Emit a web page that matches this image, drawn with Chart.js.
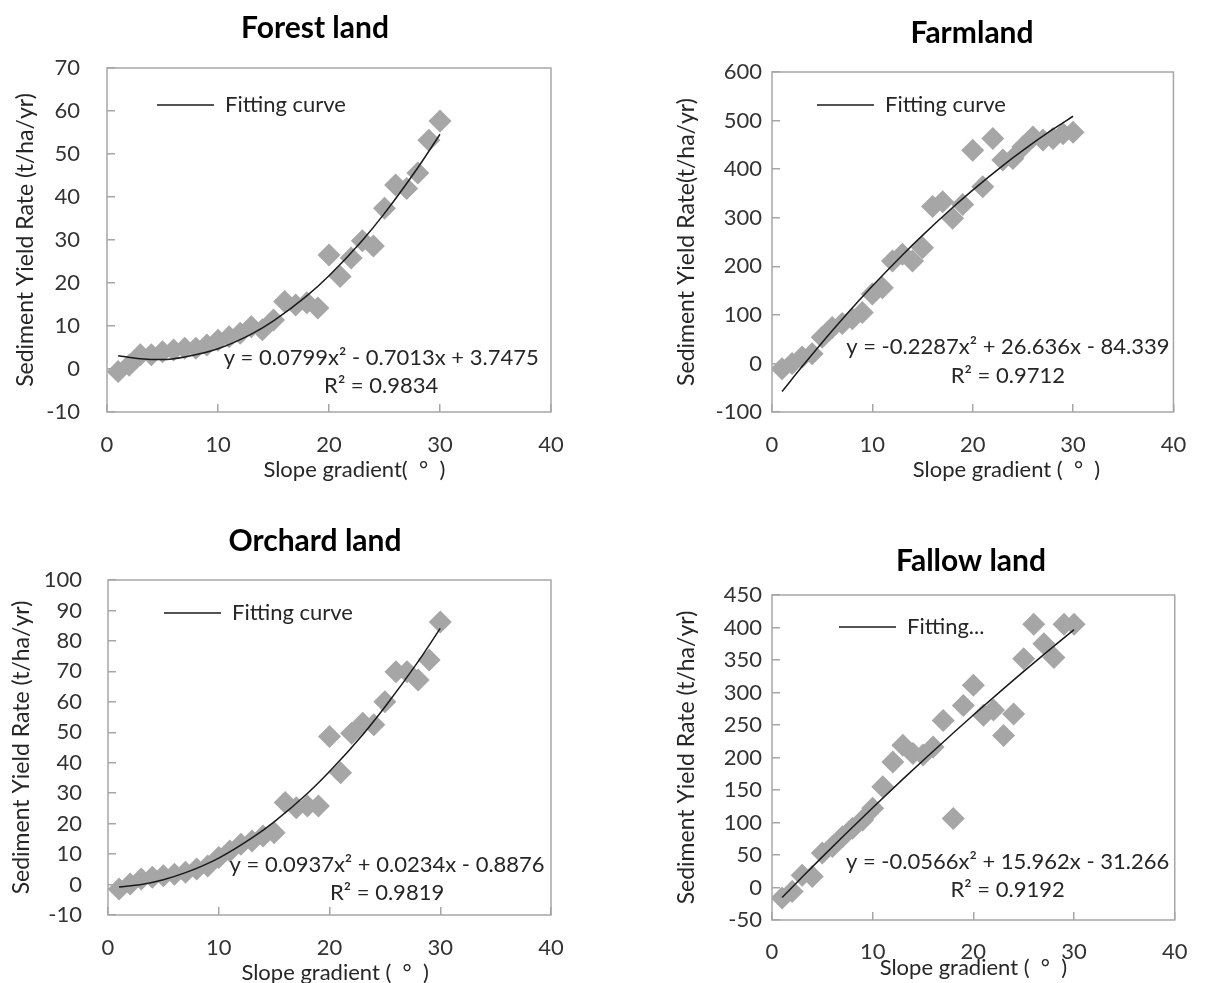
<!DOCTYPE html>
<html>
<head>
<meta charset="utf-8">
<title>Sediment yield rate vs slope gradient</title>
<script src="https://cdn.jsdelivr.net/npm/chart.js@4.4.1/dist/chart.umd.min.js"></script>
<style>
  html, body { margin: 0; padding: 0; background: #fff; overflow: hidden; }
  #page { position: relative; width: 1214px; height: 983px; overflow: hidden; }
  #page canvas { position: absolute; }
</style>
</head>
<body>
<div id="page">
  <canvas id="forestChart" width="600" height="490" style="left:0;top:0"></canvas>
  <canvas id="farmChart" width="574" height="490" style="left:640px;top:0"></canvas>
  <canvas id="orchardChart" width="600" height="500" style="left:0;top:500px"></canvas>
  <canvas id="fallowChart" width="574" height="500" style="left:640px;top:500px"></canvas>
</div>
<script>
// slope gradient of each plot (degrees)
const slopes = [1, 2, 3, 4, 5, 6, 7, 8, 9, 10, 11, 12, 13, 14, 15,
                16, 17, 18, 19, 20, 21, 22, 23, 24, 25, 26, 27, 28, 29, 30];

// sediment yield rate (t/ha/yr)
const forestYield = [-0.6, 0.9, 3.3, 3.3, 4.0, 4.4, 4.8, 4.8, 5.6, 6.7, 7.5, 8.3, 9.8, 9.1, 11.4,
                     15.7, 14.9, 15.4, 14.2, 26.5, 21.5, 25.8, 29.8, 28.6, 37.4, 42.8, 42.0, 45.6, 53.2, 57.7];
const farmYield = [-11, 0, 13, 20, 54, 74, 82, 92, 105, 143, 156, 211, 225, 211, 238,
                   323, 333, 299, 327, 439, 364, 463, 419, 422, 446, 466, 460, 463, 473, 476];
const orchardYield = [-1.5, 0.2, 1.8, 2.4, 2.9, 3.4, 4.0, 5.1, 6.1, 8.9, 11.0, 13.2, 14.3, 15.9, 17.0,
                      26.9, 25.2, 25.8, 25.8, 48.6, 36.7, 49.7, 53.0, 52.5, 60.0, 69.9, 69.9, 67.2, 73.7, 86.2];
const fallowYield = [-16, -6, 19, 17, 53, 63, 78, 91, 104, 122, 155, 193, 219, 206, 204,
                     216, 257, 106, 280, 311, 265, 273, 234, 267, 352, 405, 375, 354, 405, 405];

// fitting curves
const fitSlopes = [1, 3, 5, 7, 10, 13, 15, 18, 20, 23, 25, 28, 30];
const forestFit = [3.1, 2.4, 2.2, 2.8, 4.7, 8.1, 11.2, 17.0, 21.7, 29.9, 36.2, 46.8, 54.6];
const farmFit = [-57.9, -6.5, 43.1, 90.9, 159.2, 223.3, 263.7, 321.0, 356.9, 407.3, 438.6, 482.2, 508.9];
const orchardFit = [-0.8, 0.0, 1.6, 3.9, 8.7, 15.3, 20.6, 29.9, 37.1, 49.2, 58.3, 73.2, 84.1];
const fallowFit = [-15.4, 16.1, 47.1, 77.7, 122.7, 166.7, 195.4, 237.7, 265.3, 305.9, 332.4, 371.3, 396.7];

// axis ticks
const xTicks = [0, 10, 20, 30, 40];
const forestTicks = [-10, 0, 10, 20, 30, 40, 50, 60, 70];
const farmTicks = [-100, 0, 100, 200, 300, 400, 500, 600];
const orchardTicks = [-10, 0, 10, 20, 30, 40, 50, 60, 70, 80, 90, 100];
const fallowTicks = [-50, 0, 50, 100, 150, 200, 250, 300, 350, 400, 450];

const GREY = '#a6a6a6';
const TEXT = '#262626';
const FONT = 'Lato, "Open Sans", sans-serif';

Chart.defaults.font.family = FONT;
Chart.defaults.font.size = 22;
Chart.defaults.color = TEXT;

// frame box, equation text, and placement of title/legend like the Excel figure
const panelExtras = {
  id: 'panelExtras',
  afterLayout(chart, args, opts) {
    const t = chart.titleBlock;
    if (t && opts.titleX != null) {
      const w = t.right - t.left;
      t.left = opts.titleX - w / 2;
      t.right = t.left + w;
    }
    const lg = chart.legend;
    if (lg && opts.legendX != null) {
      const h = lg.bottom - lg.top;
      lg.left = chart.chartArea.left + opts.legendX - lg.options.labels.padding;
      lg.top = chart.chartArea.top;
      lg.bottom = lg.top + h;
    }
  },
  beforeDatasetsDraw(chart) {
    const {ctx, chartArea: a} = chart;
    ctx.save();
    ctx.strokeStyle = GREY;
    ctx.lineWidth = 1.5;
    ctx.strokeRect(a.left, a.top, a.width, a.height);
    ctx.restore();
  },
  afterDatasetsDraw(chart, args, opts) {
    const {ctx, scales} = chart;
    ctx.save();
    ctx.fillStyle = TEXT;
    ctx.font = '22px ' + FONT;
    ctx.textAlign = 'center';
    ctx.textBaseline = 'middle';
    (opts.notes || []).forEach(n => {
      ctx.fillText(n.text, scales.x.getPixelForValue(n.x), scales.y.getPixelForValue(n.y));
    });
    ctx.restore();
  }
};

function makePanel(id, p) {
  const observed = slopes.map((s, i) => ({x: s, y: p.values[i]}));
  const curve = fitSlopes.map((s, i) => ({x: s, y: p.fit[i]}));
  const tickGrid = {
    display: true, drawOnChartArea: false, drawTicks: true,
    tickLength: -8, color: GREY, lineWidth: 1.5
  };
  return new Chart(document.getElementById(id), {
    type: 'scatter',
    data: {
      datasets: [{
        type: 'line',
        label: p.legend,
        data: curve,
        borderColor: '#1a1a1a',
        borderWidth: 1.5,
        pointRadius: 0,
        cubicInterpolationMode: 'monotone'
      }, {
        label: 'Observed',
        data: observed,
        pointStyle: 'rectRot',
        pointRadius: 11.5,
        backgroundColor: GREY,
        borderWidth: 0
      }]
    },
    options: {
      responsive: false,
      animation: false,
      events: [],
      layout: { padding: { left: 0, top: 0, right: p.padRight, bottom: 0 } },
      plugins: {
        title: {
          display: true, text: p.title, color: '#000',
          font: { size: 30, weight: 'bold' }, padding: p.titlePad
        },
        legend: {
          position: 'chartArea', align: 'start',
          labels: {
            usePointStyle: true, pointStyle: 'line', pointStyleWidth: 57,
            padding: p.legendPad, color: TEXT, font: { size: 22 },
            filter: item => item.datasetIndex === 0
          }
        },
        tooltip: { enabled: false },
        panelExtras: { titleX: p.titleX, legendX: p.legendX, notes: p.notes }
      },
      scales: {
        x: {
          type: 'linear', position: 'bottom',
          min: xTicks[0], max: xTicks[xTicks.length - 1],
          ticks: { stepSize: xTicks[1] - xTicks[0], padding: p.xTickPad, color: '#333' },
          grid: tickGrid,
          border: { display: false },
          title: { display: true, text: p.xTitle, color: TEXT, font: { size: 22 },
                   padding: { top: 0, bottom: p.xTitlePad } },
          afterFit: s => { s.height = p.xHeight; }
        },
        y: {
          type: 'linear', position: 'left',
          min: p.yTicks[0], max: p.yTicks[p.yTicks.length - 1],
          ticks: { stepSize: p.yTicks[1] - p.yTicks[0], padding: p.yTickPad, color: '#333' },
          grid: tickGrid,
          border: { display: false },
          title: { display: true, text: p.yTitle, color: TEXT, font: { size: 23 },
                   padding: { top: p.yTitlePad, bottom: 0 } },
          afterFit: s => { s.width = p.yWidth; }
        }
      }
    },
    plugins: [panelExtras]
  });
}

makePanel('forestChart', {
  title: 'Forest land', titleX: 315, titlePad: { top: 10, bottom: 22 },
  values: forestYield, fit: forestFit, yTicks: forestTicks, legend: 'Fitting curve',
  padRight: 49, yWidth: 107, yTickPad: 35, yTitlePad: 12.2, yTitle: 'Sediment Yield Rate (t/ha/yr)',
  xHeight: 78, xTickPad: 27.8, xTitlePad: 6.8, xTitle: ' '.repeat(9) + 'Slope gradient(  °  )',
  legendPad: 26, legendX: 50,
  notes: [
    { text: 'y = 0.0799x² - 0.7013x + 3.7475', x: 24.7, y: 2.6 },
    { text: 'R² = 0.9834', x: 24.7, y: -4.0 }
  ]
});

makePanel('farmChart', {
  title: 'Farmland', titleX: 332, titlePad: { top: 15, bottom: 21 },
  values: farmYield, fit: farmFit, yTicks: farmTicks, legend: 'Fitting curve',
  padRight: 17, yWidth: 132, yTickPad: 18, yTitlePad: 33.2, yTitle: 'Sediment Yield Rate(t/ha/yr)',
  xHeight: 78, xTickPad: 27.8, xTitlePad: 6.8, xTitle: ' '.repeat(12) + 'Slope gradient (  °  )',
  legendPad: 22, legendX: 45,
  notes: [
    { text: 'y = -0.2287x² + 26.636x - 84.339', x: 23.5, y: 33.5 },
    { text: 'R² = 0.9712', x: 23.5, y: -24.7 }
  ]
});

makePanel('orchardChart', {
  title: 'Orchard land', titleX: 315, titlePad: { top: 23, bottom: 21 },
  values: orchardYield, fit: orchardFit, yTicks: orchardTicks, legend: 'Fitting curve',
  padRight: 49, yWidth: 108, yTickPad: 34, yTitlePad: 8.2, yTitle: 'Sediment Yield Rate (t/ha/yr)',
  xHeight: 85, xTickPad: 27.8, xTitlePad: 13.8, xTitle: ' '.repeat(2) + 'Slope gradient (  °  )',
  legendPad: 22, legendX: 56,
  notes: [
    { text: 'y = 0.0937x² + 0.0234x - 0.8876', x: 25.2, y: 6.4 },
    { text: 'R² = 0.9819', x: 25.2, y: -2.9 }
  ]
});

makePanel('fallowChart', {
  title: 'Fallow land', titleX: 331, titlePad: { top: 43, bottom: 16 },
  values: fallowYield, fit: fallowFit, yTicks: fallowTicks, legend: 'Fitting...',
  padRight: 17, yWidth: 132, yTickPad: 18, yTitlePad: 33.2, yTitle: 'Sediment Yield Rate (t/ha/yr)',
  xHeight: 80, xTickPad: 26.5, xTitlePad: 18.5, xTitle: 'Slope gradient (  °  )',
  legendPad: 21, legendX: 67,
  notes: [
    { text: 'y = -0.0566x² + 15.962x - 31.266', x: 23.4, y: 39.7 },
    { text: 'R² = 0.9192', x: 23.4, y: -3.8 }
  ]
});
</script>
</body>
</html>
